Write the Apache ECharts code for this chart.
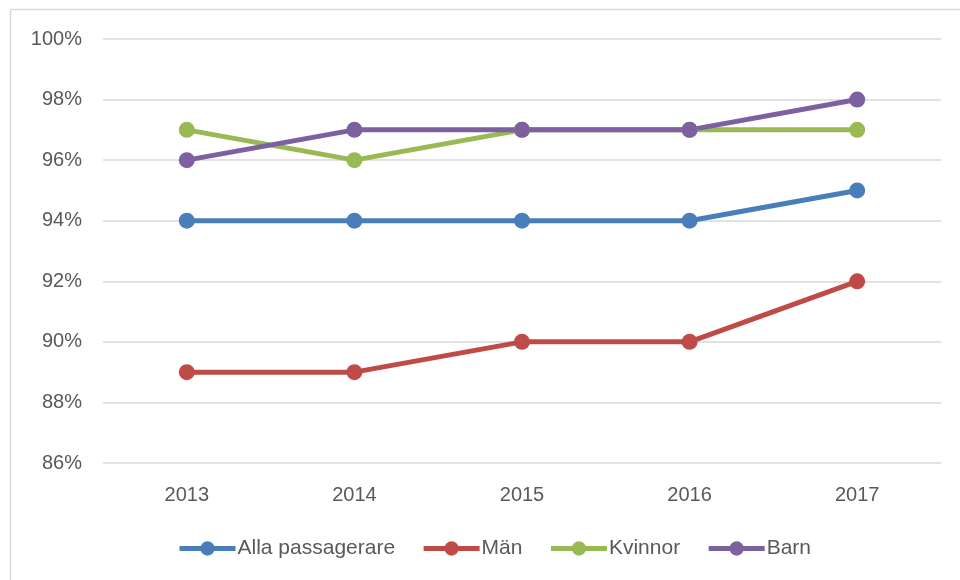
<!DOCTYPE html>
<html>
<head>
<meta charset="utf-8">
<script src="https://cdn.jsdelivr.net/npm/echarts@6/dist/echarts.min.js"></script>
<style>
  html, body { margin: 0; padding: 0; background: #fff; }
  #chart { width: 960px; height: 580px; }
</style>
</head>
<body>
<div id="chart"></div>
<script>
const years = ['2013', '2014', '2015', '2016', '2017']
const alla = [94, 94, 94, 94, 95]
const man = [89, 89, 90, 90, 92]
const kvinnor = [97, 96, 97, 97, 97]
const barn = [96, 97, 97, 97, 98]

const seriesDefs = [
  { name: 'Alla passagerare', data: alla, color: '#4a7ebb' },
  { name: 'Män', data: man, color: '#be4b48' },
  { name: 'Kvinnor', data: kvinnor, color: '#98b954' },
  { name: 'Barn', data: barn, color: '#7d60a0' }
]

const font = '"Liberation Sans", Arial, sans-serif'

const chart = echarts.init(document.getElementById('chart'))
chart.setOption({
  animation: false,
  textStyle: { fontFamily: font },
  graphic: [{
    type: 'rect',
    shape: { x: 10.5, y: 9.5, width: 980, height: 600 },
    style: { fill: 'none', stroke: '#d9d9d9', lineWidth: 1.5 },
    silent: true
  }],
  grid: { left: 103, right: 19, top: 39, bottom: 117 },
  legend: {
    top: 533,
    left: 172,
    itemWidth: 56,
    itemHeight: 18,
    itemGap: 26,
    lineStyle: { width: 5 },
    textStyle: { fontSize: 21, color: '#595959', fontFamily: font, padding: [0, 0, 0, -3] },
    data: seriesDefs.map(s => ({ name: s.name, lineStyle: { width: 5 } }))
  },
  xAxis: {
    type: 'category',
    data: years,
    boundaryGap: true,
    axisLine: { show: false },
    axisTick: { show: false },
    axisLabel: { fontSize: 20, color: '#595959', margin: 22, fontFamily: font }
  },
  yAxis: {
    type: 'value',
    min: 86,
    max: 100,
    interval: 2,
    axisLine: { show: false },
    axisTick: { show: false },
    axisLabel: { fontSize: 20, color: '#595959', margin: 21, fontFamily: font, formatter: '{value}%' },
    splitLine: { lineStyle: { color: '#d9d9d9', width: 1.5 } }
  },
  series: seriesDefs.map(s => ({
    name: s.name,
    type: 'line',
    data: s.data,
    symbol: 'circle',
    symbolSize: 16,
    color: s.color,
    lineStyle: { width: 5, color: s.color },
    itemStyle: { color: s.color }
  }))
})
</script>
</body>
</html>
